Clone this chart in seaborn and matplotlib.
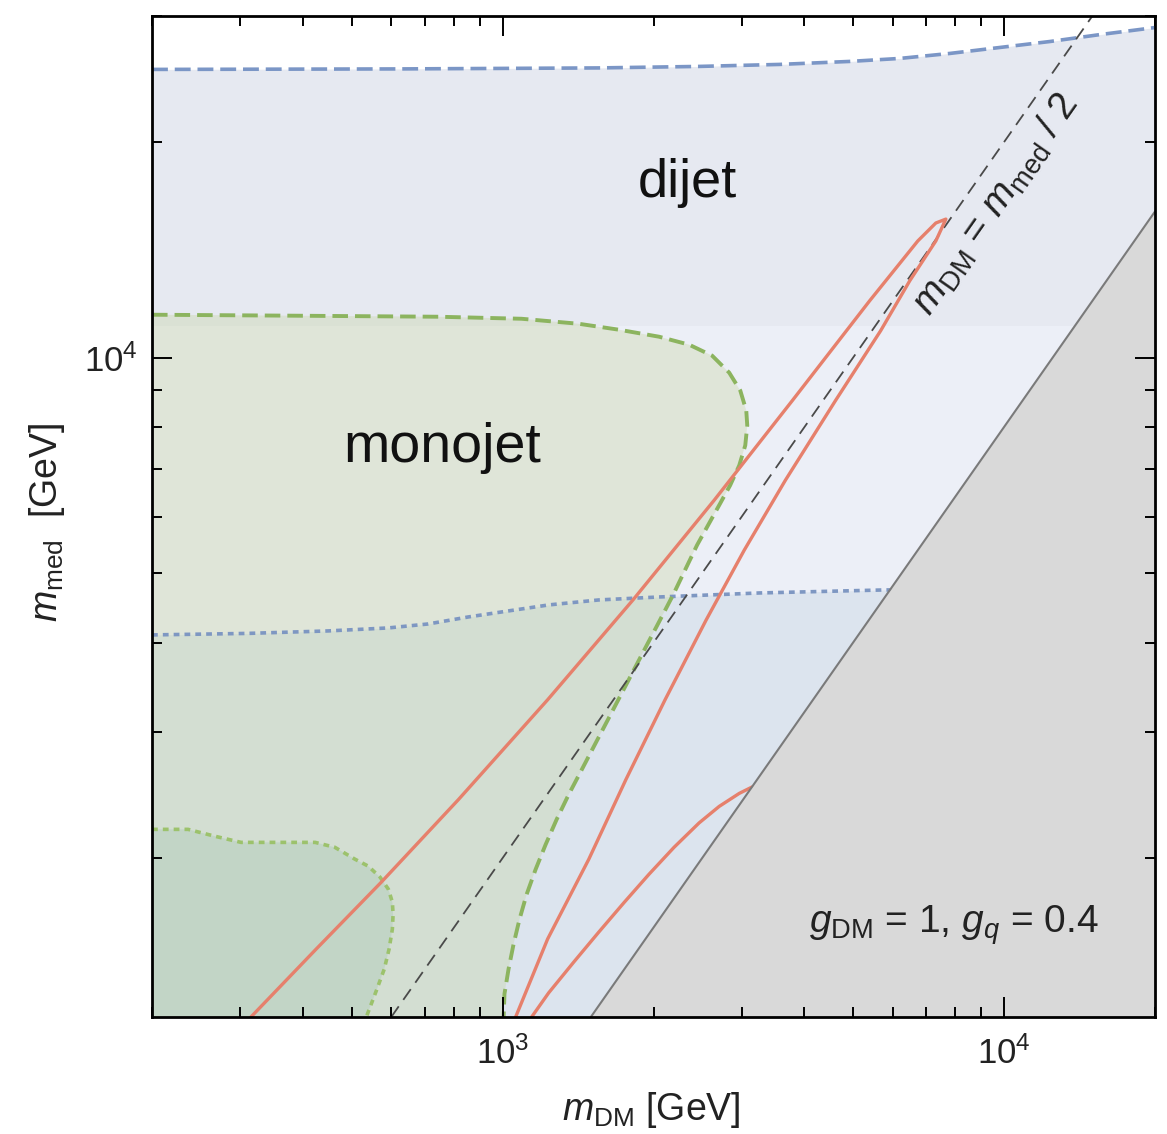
import matplotlib
matplotlib.use("Agg")
import matplotlib.pyplot as plt
import matplotlib.ticker as mticker
import seaborn as sns

# ---- data (GeV) ----
x_range = [200, 20000]
y_range = [1200, 30000]

# dijet reach: projected (dashed) and current (dotted)
dijet_proj_mdm = [200, 619, 1556, 2466, 3565, 4920, 6194, 7798, 9817, 12359, 15560, 20000]
dijet_proj_mmed = [25265, 25305, 25387, 25510, 25674, 25922, 26173, 26597, 27114, 27640,
                   28264, 28906]
dijet_band_edge = 11080

dijet_curr_mdm = [200, 311, 449, 592, 711, 855, 1028, 1236, 1556, 2051, 3251, 5781, 6194]
dijet_curr_mmed = [4100, 4120, 4153, 4193, 4247, 4344, 4429, 4515, 4588, 4632, 4692, 4738,
                   4738]

# monojet reach: projected (dashed) and current (dotted)
mono_proj_mdm = [200, 391, 745, 1091, 1419, 1706, 2051, 2355, 2618, 2831, 2979, 3062, 3076,
                 3048, 2965, 2844, 2704, 2570, 2443, 2312, 2188, 2061, 1941, 1828, 1722,
                 1622, 1528, 1439, 1355, 1282, 1219, 1164, 1117, 1081, 1052, 1028, 1009,
                 1005]
mono_proj_mmed = [11480, 11443, 11406, 11332, 11151, 10940, 10697, 10426, 10064, 9530, 8996,
                  8437, 8039, 7542, 7072, 6634, 6222, 5836, 5473, 5052, 4662, 4302, 3971,
                  3665, 3382, 3121, 2882, 2659, 2454, 2265, 2090, 1929, 1780, 1643, 1517,
                  1400, 1293, 1200]

mono_curr_mdm = [200, 236, 267, 301, 361, 423, 463, 508, 540, 570, 592, 603, 605, 603, 594,
                 581, 560, 535]
mono_curr_mmed = [2194, 2194, 2146, 2104, 2104, 2104, 2071, 1993, 1949, 1881, 1810, 1736,
                  1670, 1592, 1493, 1400, 1305, 1200]

# relic-density contours
relic_a_mdm = [315, 425, 573, 817, 1230, 1820, 2642, 3784, 5395, 6730, 7311, 7656,
               7311, 6486, 5675, 4613, 3664, 3034, 2547, 2109, 1762, 1486, 1230, 1062]
relic_a_mmed = [1200, 1493, 1851, 2415, 3328, 4588, 6321, 8712, 12005, 14552, 15418, 15613,
                14552, 12803, 10904, 8712, 6741, 5385, 4302, 3328, 2575, 1993, 1542, 1200]

relic_b_mdm = [1143, 1236, 1387, 1556, 1746, 1959, 2198, 2466, 2704, 2965, 3148]
relic_b_mmed = [1200, 1297, 1432, 1577, 1733, 1899, 2071, 2240, 2362, 2463, 2515]

# m_DM = m_med / 2 and the excluded corner
half_mdm = [600, 15000]
half_mmed = [1200, 30000]
bound_mdm = [1500, 20000]
bound_mmed = [1200, 16000]

# ---- style ----
sns.set_theme(style="ticks")
plt.rcParams["font.family"] = ["Liberation Sans", "DejaVu Sans"]
plt.rcParams["mathtext.fontset"] = "custom"
plt.rcParams["mathtext.rm"] = "Liberation Sans"
plt.rcParams["mathtext.it"] = "Liberation Sans:italic"
plt.rcParams["mathtext.bf"] = "Liberation Sans:bold"

fig = plt.figure(figsize=(11.67, 11.34), dpi=100)
ax = fig.add_axes([152 / 1167, 1 - 1017 / 1134, 1003 / 1167, 1001 / 1134])
ax.set_xscale("log")
ax.set_yscale("log")
ax.set_xlim(*x_range)
ax.set_ylim(*y_range)
ax.set_facecolor("white")

# ---- shaded regions ----
ax.fill_between(dijet_proj_mdm, dijet_band_edge, dijet_proj_mmed, color="#e6e9f1", lw=0, zorder=1)
ax.fill_between(dijet_proj_mdm, y_range[0], dijet_band_edge, color="#eceff7", lw=0, zorder=1)
ax.fill_between(dijet_curr_mdm, y_range[0], dijet_curr_mmed, color="#a0b9cd", alpha=0.2,
                lw=0, zorder=1.1)
ax.fill(mono_proj_mdm + [x_range[0]], mono_proj_mmed + [y_range[0]], color="#c1d193",
        alpha=0.3, lw=0, zorder=1.2)
ax.fill(mono_curr_mdm + [x_range[0]], mono_curr_mmed + [y_range[0]], color="#aac8b4",
        alpha=0.4, lw=0, zorder=1.3)

# ---- boundary lines ----
def draw(xs, ys, **kw):
    sns.lineplot(x=xs, y=ys, sort=False, estimator=None, ax=ax, **kw)

draw(dijet_proj_mdm, dijet_proj_mmed, color="#7b96c6", linewidth=2.6,
     linestyle=(0, (4.4, 1.9)), zorder=3)
draw(dijet_curr_mdm, dijet_curr_mmed, color="#7e97c2", linewidth=2.6,
     linestyle=(0, (1.6, 1.4)), zorder=3)
draw(mono_proj_mdm, mono_proj_mmed, color="#8cb45f", linewidth=2.8,
     linestyle=(0, (4.0, 1.8)), zorder=3)
draw(mono_curr_mdm, mono_curr_mmed, color="#9cc26c", linewidth=2.6,
     linestyle=(0, (1.6, 1.4)), zorder=3)
draw(half_mdm, half_mmed, color="#4a4a4a", linewidth=1.3,
     linestyle=(0, (7.2, 4.4)), zorder=4)
draw(relic_a_mdm, relic_a_mmed, color="#e6806c", linewidth=2.4, zorder=4)
draw(relic_b_mdm, relic_b_mmed, color="#e6806c", linewidth=2.4, zorder=4)

# excluded corner below m_med = 0.8 m_DM
ax.fill_between(bound_mdm, y_range[0], bound_mmed, color="#d9d9d9", lw=0, zorder=5)
draw(bound_mdm, bound_mmed, color="#7a7a7a", linewidth=1.5, zorder=6)

# ---- text ----
ax.text(0.534, 0.819, "dijet", transform=ax.transAxes, fontsize=39, ha="center",
        va="baseline", color="#111111", zorder=7)
ax.text(0.289, 0.554, "monojet", transform=ax.transAxes, fontsize=40, ha="center",
        va="baseline", color="#111111", zorder=7)
ax.text(0.799, 0.084, r"$g_{\rm DM}$ = 1, $g_q$ = 0.4", transform=ax.transAxes,
        fontsize=28, ha="center", va="baseline", color="#222222", zorder=7)
ax.text(0.842, 0.812, r"$m_{\rm DM}$ = $m_{\rm med}$ / 2", transform=ax.transAxes,
        fontsize=28, ha="center", va="center", rotation=55, rotation_mode="anchor",
        color="#222222", zorder=7)

# ---- axes ----
ax.set_xlabel(r"$m_{\rm DM}$ [GeV]", fontsize=27, color="#222222")
ax.set_ylabel(r"$m_{\rm med}$  [GeV]", fontsize=27, color="#222222")
ax.xaxis.set_label_coords(0.4975, -0.073)
ax.yaxis.set_label_coords(-0.085, 0.494)

ax.xaxis.set_minor_formatter(mticker.NullFormatter())
ax.yaxis.set_minor_formatter(mticker.NullFormatter())
ax.tick_params(which="both", direction="in", top=True, right=True, width=1.4,
               colors="black", labelsize=25)
ax.tick_params(axis="x", which="both", pad=14)
ax.tick_params(axis="y", which="both", pad=10)
ax.tick_params(which="major", length=14.4)
ax.tick_params(which="minor", length=7.2)
for lab in ax.get_xticklabels() + ax.get_yticklabels():
    lab.set_color("#222222")

for s in ax.spines.values():
    s.set_linewidth(2.0)
    s.set_color("black")
    s.set_zorder(10)
ax.xaxis.set_zorder(10)
ax.yaxis.set_zorder(10)

fig.savefig("out.png", dpi=100, facecolor="white")
